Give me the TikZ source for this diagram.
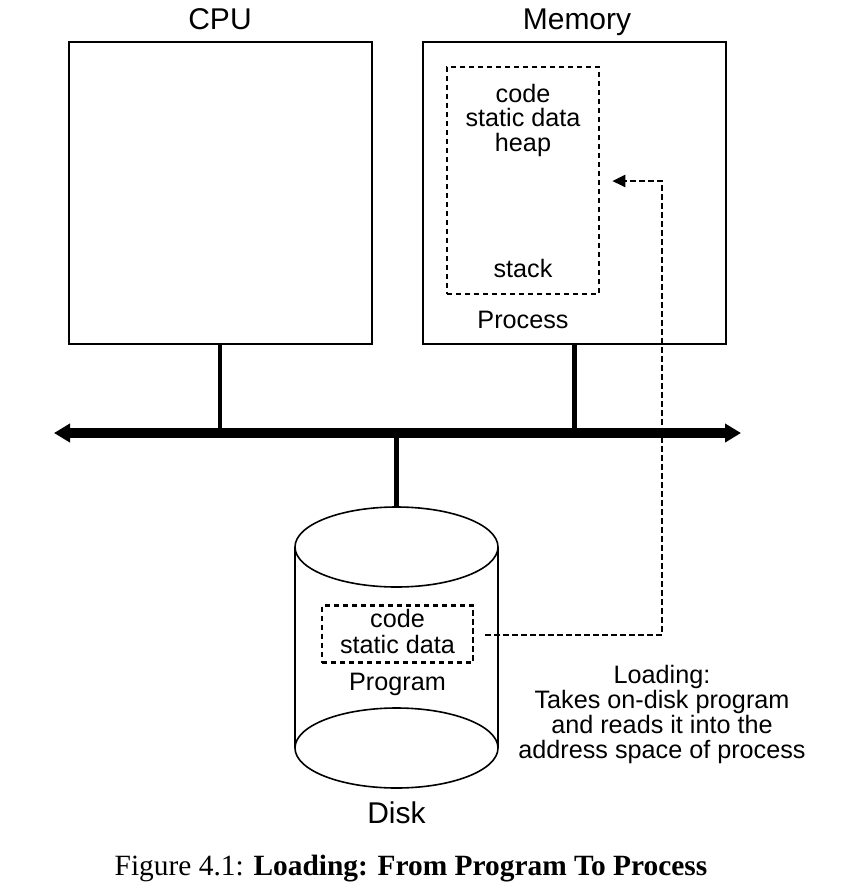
\documentclass[tikz,border=0pt]{standalone}
\usepackage{fontspec}
\setmainfont{Liberation Sans}
\newfontfamily\capfont{Liberation Serif}
\usetikzlibrary{calc,arrows.meta}

\begin{document}
\begin{tikzpicture}[x=0.5pt,y=-0.5pt,
        unitbox/.style={draw,line width=1pt,inner sep=0pt,minimum width=151.5pt,minimum height=151pt},
        dashbox/.style={draw,line width=1.3pt,dash pattern=on 2.7pt off 1.8pt,inner sep=0pt},
        bigtext/.style={font=\fontsize{15}{17}\selectfont,inner sep=0pt,anchor=base},
        smalltext/.style={font=\fontsize{12.6}{13}\selectfont,inner sep=0pt,anchor=base,align=center},
        wire/.style={line width=2.3pt}]
    \useasboundingbox (0,0) rectangle (861,889);

    % boxes
    \node[unitbox] (cpu) at (220,193) {};
    \node[unitbox] (mem) at (574.5,193) {};
    \node[bigtext] (cpulbl) at (220,29) {CPU};
    \node[bigtext] (memlbl) at (577,29) {Memory};

    % process in memory
    \node[dashbox,minimum width=76pt,minimum height=113.5pt] (memdash) at (523,180.5) {};
    \node[smalltext] (pcode) at (523,102) {code};
    \node[smalltext] (pdata) at (523,126.5) {static data};
    \node[smalltext] (pheap) at (523,151) {heap};
    \node[smalltext] (pstack) at (523,277) {stack};
    \node[smalltext] (proclbl) at (523,328) {Process};

    % bus
    \coordinate (busL) at (54,433);
    \coordinate (busR) at (741,433);
    \draw[line width=5pt,{Triangle[length=8pt,width=9pt]}-{Triangle[length=8pt,width=9pt]}] (busL) -- (busR);
    \foreach \b in {cpu,mem}
        \draw[wire] (\b.south) -- (\b.south |- busL);

    % disk
    \coordinate (disktop) at (396.5,507);
    \draw[wire] (disktop |- busL) -- (disktop);
    \draw[line width=0.8pt] (396.5,547) ellipse (50.75pt and 20pt);
    \draw[line width=0.8pt] (396.5,748) ellipse (50.75pt and 20pt);
    \draw[line width=0.8pt] (295,547) -- (295,748);
    \draw[line width=0.8pt] (498,547) -- (498,748);
    \node[dashbox,minimum width=75.5pt,minimum height=28.5pt] (prog) at (397.5,634) {};
    \node[smalltext] (dcode) at (397.5,627) {code};
    \node[smalltext] (ddata) at (397.5,653) {static data};
    \node[smalltext] (proglbl) at (397.5,690) {Program};
    \node[bigtext] (disklbl) at (396.5,823) {Disk};

    % loading
    \coordinate (turn) at (662,181);
    \draw[dashbox,-{Triangle[length=6.5pt,width=6pt]}] ($(prog.east)+(11,1)$) -| (turn) -- ($(memdash.east |- turn)+(12,0)$);
    \node[smalltext] (loadlbl) at (662,683) {Loading:};
    \node[smalltext] (load1) at (662,708) {Takes on-disk program};
    \node[smalltext] (load2) at (662,733) {and reads it into the};
    \node[smalltext] (load3) at (662,758) {address space of process};

    % caption
    \node[anchor=base,inner sep=0pt,font=\capfont\fontsize{14.7}{17}\selectfont] (caption) at (411,875)
        {Figure 4.1: \textbf{Loading: From Program To Process}};
\end{tikzpicture}
\end{document}
